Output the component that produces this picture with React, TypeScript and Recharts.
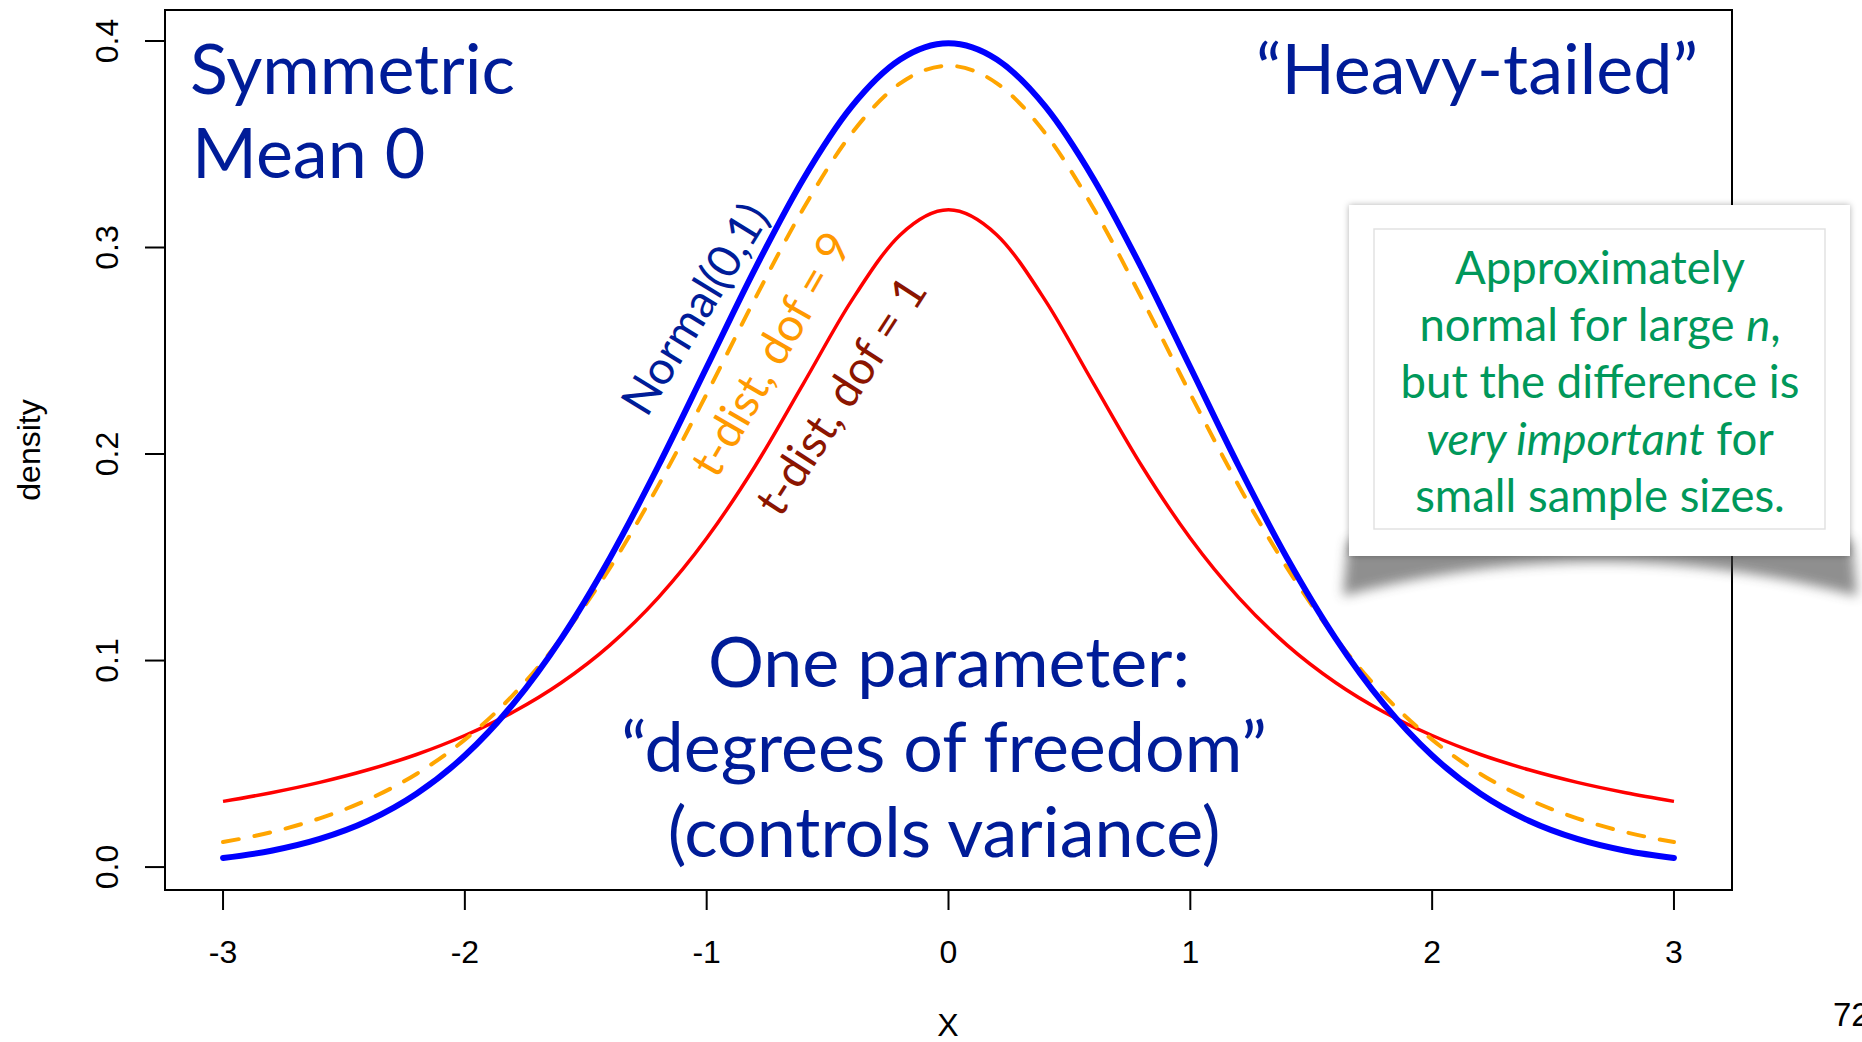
import React from 'react';
import { LineChart, Line, XAxis, YAxis, ReferenceArea } from 'recharts';

// x grid used for the density curves
const xValues = [
  -3, -2.8, -2.6, -2.4, -2.2, -2, -1.8, -1.6, -1.4, -1.2, -1, -0.8, -0.6, -0.4, -0.2, 0,
  0.2, 0.4, 0.6, 0.8, 1, 1.2, 1.4, 1.6, 1.8, 2, 2.2, 2.4, 2.6, 2.8, 3,
];

// Normal(0,1)
const normalDensity = [
  0.0044, 0.0079, 0.0136, 0.0224, 0.0355, 0.054, 0.079, 0.1109, 0.1497, 0.1942, 0.242, 0.2897,
  0.3332, 0.3683, 0.391, 0.3989, 0.391, 0.3683, 0.3332, 0.2897, 0.242, 0.1942, 0.1497, 0.1109,
  0.079, 0.054, 0.0355, 0.0224, 0.0136, 0.0079, 0.0044,
];

// t-dist, dof = 9
const tDof9Density = [
  0.0121, 0.0169, 0.0236, 0.0327, 0.0451, 0.0617, 0.0834, 0.111, 0.1449, 0.1847, 0.2291, 0.2752,
  0.3189, 0.3553, 0.3795, 0.388, 0.3795, 0.3553, 0.3189, 0.2752, 0.2291, 0.1847, 0.1449, 0.111,
  0.0834, 0.0617, 0.0451, 0.0327, 0.0236, 0.0169, 0.0121,
];

// t-dist, dof = 1
const tDof1Density = [
  0.0318, 0.036, 0.041, 0.0471, 0.0545, 0.0637, 0.0751, 0.0894, 0.1075, 0.1305, 0.1592, 0.1941,
  0.2341, 0.2744, 0.3061, 0.3183, 0.3061, 0.2744, 0.2341, 0.1941, 0.1592, 0.1305, 0.1075, 0.0894,
  0.0751, 0.0637, 0.0545, 0.0471, 0.041, 0.036, 0.0318,
];

const xTicks = [-3, -2, -1, 0, 1, 2, 3];
const yTicks = [0, 0.1, 0.2, 0.3, 0.4];

const xDomain: [number, number] = [-3.24, 3.24];
const yDomain: [number, number] = [-0.0111, 0.415];

const rows = xValues.map((x, i) => ({
  x,
  normal: normalDensity[i],
  t9: tDof9Density[i],
  t1: tDof1Density[i],
}));

const AXIS_FONT = '"Liberation Sans", Arial, Helvetica, sans-serif';
const TEXT_FONT = 'Lato, "Open Sans", sans-serif';
const NAVY = '#001c98';
const GREEN = '#00985a';

const DensityTick = (props: any) => {
  const { x, y, payload } = props;
  return (
    <text
      transform={`translate(${x - 27},${y}) rotate(-90)`}
      textAnchor="middle"
      fontFamily={AXIS_FONT}
      fontSize={32}
      fill="#000"
    >
      {Number(payload.value).toFixed(1)}
    </text>
  );
};

const Annotations = () => (
  <svg
    width={1862}
    height={1042}
    style={{ position: 'absolute', left: 0, top: 0, pointerEvents: 'none' }}
  >
    <defs>
      <filter id="curl" x="-10%" y="-50%" width="120%" height="200%">
        <feGaussianBlur stdDeviation="6" />
      </filter>
      <filter id="edge" x="-5%" y="-5%" width="110%" height="110%">
        <feDropShadow dx="0" dy="0" stdDeviation="3" floodColor="#000" floodOpacity="0.3" />
      </filter>
    </defs>

    {/* axis titles and page number */}
    <text
      transform="translate(40,450) rotate(-90)"
      textAnchor="middle"
      fontFamily={AXIS_FONT}
      fontSize={32}
    >
      density
    </text>
    <text x={948} y={1036} textAnchor="middle" fontFamily={AXIS_FONT} fontSize={32}>
      X
    </text>
    <text x={1833} y={1026} fontFamily={AXIS_FONT} fontSize={33}>
      72
    </text>

    {/* big slide text */}
    <g fontFamily={TEXT_FONT} fontSize={70} fill={NAVY}>
      <text x={190} y={94}>Symmetric</text>
      <text x={192} y={178}>Mean 0</text>
      <text x={1698} y={94} textAnchor="end">
        “Heavy-tailed”
      </text>
      <text x={949} y={687} textAnchor="middle">
        One parameter:
      </text>
      <text x={944} y={772} textAnchor="middle">
        “degrees of freedom”
      </text>
      <text x={944} y={857} textAnchor="middle">
        (controls variance)
      </text>
    </g>

    {/* curve labels */}
    <g fontFamily={TEXT_FONT} fontSize={46} textAnchor="middle">
      <text transform="translate(695,309) rotate(-58.5)" dy="0.35em" fill={NAVY}>
        Normal(0,1)
      </text>
      <text transform="translate(771,354) rotate(-60)" dy="0.35em" fill="#ff9900">
        t-dist, dof = 9
      </text>
      <text transform="translate(841,396) rotate(-57)" dy="0.35em" fill="#8b1500">
        t-dist, dof = 1
      </text>
    </g>

    {/* callout */}
    <path
      d="M1348,540 L1852,540 L1857,596 Q1600,528 1343,596 Z"
      fill="#444"
      opacity={0.6}
      filter="url(#curl)"
    />
    <rect x={1349} y={205} width={501} height={351} fill="#fff" filter="url(#edge)" />
    <rect x={1374} y={229} width={451} height={300} fill="none" stroke="#e2e2e2" strokeWidth={1.5} />
    <g fontFamily={TEXT_FONT} fontSize={45.5} fill={GREEN} textAnchor="middle">
      <text x={1600} y={284}>Approximately</text>
      <text x={1600} y={341}>
        normal for large <tspan fontStyle="italic">n</tspan>,
      </text>
      <text x={1600} y={398}>but the difference is</text>
      <text x={1600} y={455}>
        <tspan fontStyle="italic">very important</tspan> for
      </text>
      <text x={1600} y={512}>small sample sizes.</text>
    </g>
  </svg>
);

export default function App() {
  return (
    <div style={{ position: 'absolute', left: 0, top: 0, width: 1862, height: 1042, background: '#fff' }}>
      <LineChart
        width={1862}
        height={1042}
        data={rows}
        margin={{ top: 10, right: 130, left: 105, bottom: 92 }}
      >
        <XAxis
          dataKey="x"
          type="number"
          domain={xDomain}
          ticks={xTicks}
          allowDataOverflow
          height={60}
          axisLine={false}
          stroke="#000"
          tickLine={{ stroke: '#000', strokeWidth: 2 }}
          tickSize={20}
          tickMargin={30}
          tick={{ fill: '#000', fontSize: 32, fontFamily: AXIS_FONT }}
        />
        <YAxis
          type="number"
          domain={yDomain}
          ticks={yTicks}
          allowDataOverflow
          width={60}
          axisLine={false}
          stroke="#000"
          tickLine={{ stroke: '#000', strokeWidth: 2 }}
          tickSize={20}
          tickMargin={0}
          tick={<DensityTick />}
        />
        <ReferenceArea
          x1={xDomain[0]}
          x2={xDomain[1]}
          y1={yDomain[0]}
          y2={yDomain[1]}
          ifOverflow="visible"
          fill="none"
          fillOpacity={0}
          stroke="#000"
          strokeWidth={2}
        />
        <Line
          type="monotone"
          dataKey="t1"
          stroke="#ff0000"
          strokeWidth={3.5}
          dot={false}
          isAnimationActive={false}
        />
        <Line
          type="monotone"
          dataKey="t9"
          stroke="#ffa500"
          strokeWidth={4}
          strokeDasharray="16 16"
          strokeLinecap="round"
          dot={false}
          isAnimationActive={false}
        />
        <Line
          type="monotone"
          dataKey="normal"
          stroke="#0000ff"
          strokeWidth={6}
          strokeLinecap="round"
          dot={false}
          isAnimationActive={false}
        />
      </LineChart>
      <Annotations />
    </div>
  );
}
